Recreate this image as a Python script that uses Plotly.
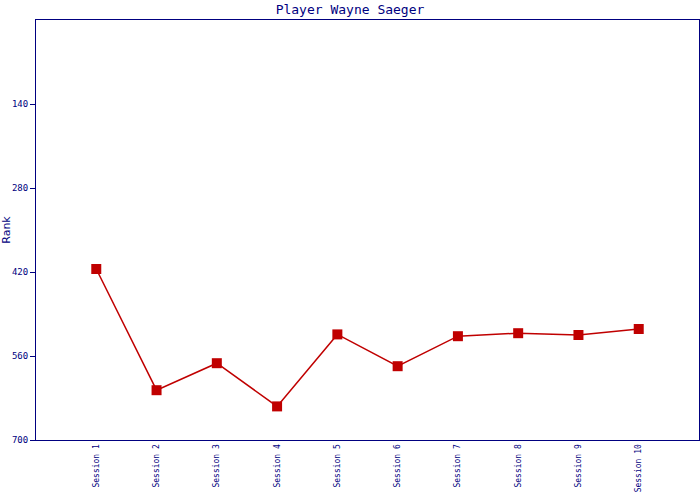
import plotly.graph_objects as go

sessions = ["Session 1", "Session 2", "Session 3", "Session 4", "Session 5",
            "Session 6", "Session 7", "Session 8", "Session 9", "Session 10"]
ranks = [415, 617, 572, 644, 524, 577, 527, 522, 525, 515]
y_ticks = [140, 280, 420, 560, 700]

positions = list(range(1, len(sessions) + 1))
navy = "#000080"
red = "#C00000"

fig = go.Figure()
fig.add_trace(go.Scatter(
    x=positions, y=ranks, mode="lines+markers",
    line=dict(color=red, width=1.5),
    marker=dict(symbol="square", size=10, color=red),
    showlegend=False,
))

fig.update_layout(
    width=700, height=500,
    margin=dict(l=36, r=1, t=20, b=60),
    paper_bgcolor="white", plot_bgcolor="white",
    title=dict(text="Player Wayne Saeger", x=0.5, xanchor="center", y=0.982, yanchor="middle",
               font=dict(family="DejaVu Sans Mono", size=13, color=navy)),
    font=dict(family="DejaVu Sans Mono", color=navy),
)
fig.update_xaxes(
    range=[0, 11], tickvals=positions, ticktext=sessions, tickangle=-90,
    showgrid=False, zeroline=False, showline=True, linecolor=navy, linewidth=1, mirror=True,
    ticks="", automargin=False,
    tickfont=dict(family="DejaVu Sans Mono", size=8, color=navy),
)
fig.update_yaxes(
    range=[700, 0], tickvals=y_ticks, ticktext=[str(v) for v in y_ticks],
    showgrid=False, zeroline=False, showline=True, linecolor=navy, linewidth=1, mirror=True,
    ticks="outside", ticklen=5, tickcolor=navy, automargin=False,
    tickfont=dict(family="DejaVu Sans Mono", size=9, color=navy),
    title=dict(text="Rank", font=dict(family="DejaVu Sans", size=11, color=navy), standoff=4),
)

fig.write_html("out.html", config={"displayModeBar": False},
               post_script="document.body.style.margin='0';")
